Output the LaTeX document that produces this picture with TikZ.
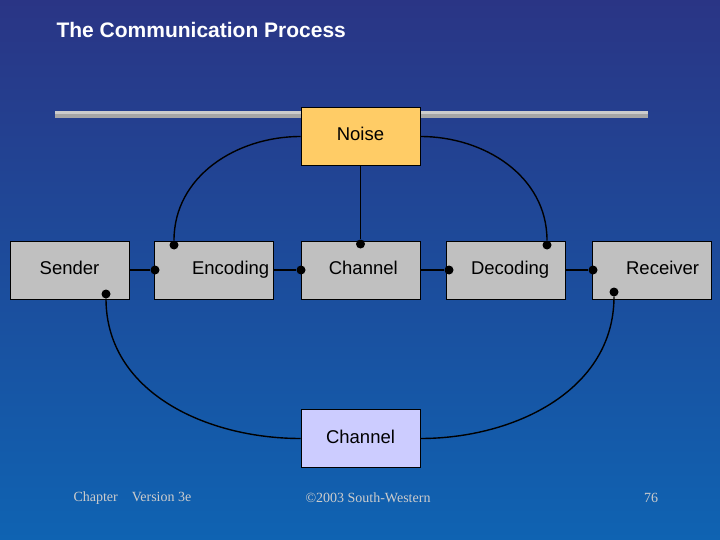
\documentclass[tikz,border=0pt]{standalone}
\usepackage{fontspec}
\setmainfont{Liberation Serif}
\newfontfamily\boxfont{Liberation Sans}
\definecolor{bgtop}{HTML}{2A3585}
\definecolor{bgbot}{HTML}{0F63B2}
\definecolor{boxgray}{HTML}{C0C0C0}
\definecolor{noisefill}{HTML}{FFCC66}
\definecolor{chanfill}{HTML}{CCCCFF}
\tikzset{
  stage/.style={draw=black, line width=0.8pt, fill=boxgray, minimum width=119pt, minimum height=58pt,
    inner sep=0pt, text height=13pt, text depth=4pt, font=\boxfont\fontsize{18.5}{21}\selectfont},
  dot/.style={fill=black, circle, inner sep=0pt, minimum size=9pt},
  link/.style={draw=black, line width=1.4pt},
  foot/.style={text=gray!40, font=\fontsize{14}{16}\selectfont}
}
\begin{document}
\begin{tikzpicture}[x=1pt, y=-1pt]
  \shade[top color=bgtop, bottom color=bgbot] (0,0) rectangle (720,540);
  \useasboundingbox (0,0) rectangle (720,540);
  \node[anchor=west, text=white, font=\boxfont\bfseries\fontsize{21}{24}\selectfont] (title) at (53,30) {The Communication Process};
  % bar
  \fill[gray!70] (55,111) rectangle (648,118);
  \fill[gray!40] (55,111) rectangle (648,114);
  % boxes
  \node[stage] (sender) at (69.5,270) {Sender};
  \node[stage] (enc) at (214,270) {\hspace{1.8em}Encoding};
  \node[stage] (chan) at (360.5,270) {\hspace{0.3em}Channel};
  \node[stage] (dec) at (505.5,270) {\hspace{0.5em}Decoding};
  \node[stage] (recv) at (651.5,270) {\hspace{1.2em}Receiver};
  \node[stage, fill=noisefill] (noise) at (360.5,136.5) {Noise};
  \node[stage, fill=chanfill] (back) at (360.5,438.5) {Channel};
  % dots
  \node[dot] (d1) at (155,270) {};
  \node[dot] (d2) at (301,270) {};
  \node[dot] (d3) at (449,270) {};
  \node[dot] (d4) at (593,270) {};
  \node[dot] (ne) at (174,245) {};
  \node[dot] (nc) at (360.5,244) {};
  \node[dot] (nd) at (547,245) {};
  \node[dot] (fs) at (106,294) {};
  \node[dot] (fr) at (614,292) {};
  % connectors
  \draw[link] (sender.east) -- (d1);
  \draw[link] (enc.east) -- (d2);
  \draw[link] (chan.east) -- (d3);
  \draw[link] (dec.east) -- (d4);
  \draw[link] (noise.west) to[out=180, in=90] (ne);
  \draw[link] (noise.south) -- (nc);
  \draw[link] (noise.east) to[out=0, in=90] (nd);
  \draw[link] (fs) to[out=-90, in=180] (back.west);
  \draw[link] (back.east) to[out=0, in=-90] (fr);
  % footer
  \node[foot, anchor=west] (chap) at (70,498) {Chapter\quad Version 3e};
  \node[foot] (copy) at (368,498) {\textcopyright 2003 South-Western};
  \node[foot] (page) at (651,498) {76};
\end{tikzpicture}
\end{document}
